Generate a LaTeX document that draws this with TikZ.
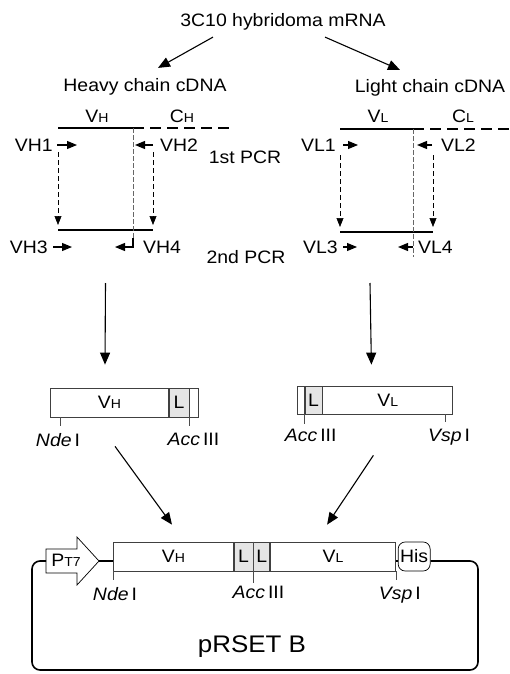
\documentclass[tikz,border=0pt]{standalone}
\usepackage{fontspec}
\setmainfont{Liberation Sans}[FakeStretch=1.08]
\usetikzlibrary{
    positioning,                      % right=0pt of
    arrows.meta,                      % Triangle tips
    calc                              % ($(a)+(0,5)$)
}
\tikzset{
    txt/.style={
        font=\fontsize{18}{20}\selectfont, inner sep=0pt, text=black
    },
    seg/.style={
        txt, draw=black!75, line width=0.7pt,
        minimum height=29pt, inner sep=0pt
    },
    linker/.style={
        seg, fill=black!10
    },
    hisbox/.style={
        seg, draw=black, rounded corners=7pt
    },
    flow/.style={
        -{Triangle[length=12pt,width=10pt]}, line width=1.1pt
    },
    primer/.style={
        -{Triangle[length=10pt,width=8pt]}, line width=1.1pt
    },
    pcrcopy/.style={
        dash pattern=on 5pt off 3pt, line width=0.6pt,
        -{Triangle[length=9pt,width=7pt]}
    },
    guide/.style={
        dash pattern=on 5pt off 2pt, line width=0.6pt, black!60
    },
    vregion/.style={line width=1.8pt},
    cregion/.style={line width=2.8pt, dash pattern=on 11pt off 6pt},
    product/.style={line width=1.3pt},
    sitetick/.style={line width=0.6pt, draw=black!70},
    backbone/.style={line width=1.6pt, rounded corners=8pt}
}
\newcommand{\regname}[2]{#1{\fontsize{13}{13}\selectfont #2}}
\newcommand{\site}[2]{\textit{#1}\,#2}

\begin{document}
\begin{tikzpicture}[x=1pt, y=-1pt]
    \useasboundingbox (0,0) rectangle (510,674);

    % mRNA and the two cDNAs
    \node[txt] (mrna)  at (283,22) {3C10 hybridoma mRNA};
    \node[txt] (heavy) at (145,87) {Heavy chain cDNA};
    \node[txt] (light) at (430,88) {Light chain cDNA};
    \draw[flow] ([xshift=-70pt,yshift=-6.5pt]mrna.south) -- ([xshift=13pt,yshift=10.5pt]heavy.north);
    \draw[flow] ([xshift=42pt,yshift=-6.5pt]mrna.south) -- ([xshift=-30pt,yshift=9.5pt]light.north);

    \node[txt] (vhlab) at (97,116)  {\regname{V}{H}};
    \node[txt] (chlab) at (182,116) {\regname{C}{H}};
    \node[txt] (vllab) at (378,116) {\regname{V}{L}};
    \node[txt] (cllab) at (463,116) {\regname{C}{L}};

    \node[txt] (pcr1) at (245,157) {1st PCR};
    \node[txt] (pcr2) at (246,257) {2nd PCR};

    % heavy chain PCR
    \coordinate (hv0) at (58,128);
    \coordinate (hv1) at (133,128);
    \coordinate (hc1) at (232,128);
    \coordinate (hp0) at (58,230);
    \coordinate (hp1) at (153,230);
    \draw[vregion] (hv0) -- (hv1);
    \draw[cregion] (hv1) -- (hc1);
    \draw[product] (hp0) -- (hp1);
    \draw[guide] (hv1) -- ($(hv1)+(0,110)$);

    \node[txt, anchor=east] (vh1) at (53,145)  {VH1};
    \node[txt, anchor=west] (vh2) at (160,145) {VH2};
    \node[txt, anchor=east] (vh3) at (48,247)  {VH3};
    \node[txt, anchor=west] (vh4) at (143,247) {VH4};
    \draw[primer] ([xshift=4pt]vh1.east) -- ++(20,0);
    \draw[primer] ([xshift=-7pt]vh2.west) -- ++(-18,0);
    \draw[primer] ([xshift=5pt]vh3.east) -- ++(19,0);
    \draw[primer] ($(hv1)+(0,110)$) |- ($(hv1)+(-18,119)$);
    \draw[pcrcopy] ($(hv0)+(0,24)$) -- ($(hp0)+(0,-5)$);
    \draw[pcrcopy] ($(hp1)+(0,-78)$) -- ($(hp1)+(0,-5)$);

    % light chain PCR
    \coordinate (lv0) at (340,129);
    \coordinate (lv1) at (413,129);
    \coordinate (lc1) at (510,129);
    \coordinate (lp0) at (340,232);
    \coordinate (lp1) at (433,232);
    \draw[vregion] (lv0) -- (lv1);
    \draw[cregion] (lv1) -- (lc1);
    \draw[product] (lp0) -- (lp1);
    \draw[guide] (lv1) -- ++(0,128);

    \node[txt, anchor=east] (vl1) at (336,145) {VL1};
    \node[txt, anchor=west] (vl2) at (441,145) {VL2};
    \node[txt, anchor=east] (vl3) at (338,247) {VL3};
    \node[txt, anchor=west] (vl4) at (418,247) {VL4};
    \draw[primer] ([xshift=7pt]vl1.east) -- ++(15,0);
    \draw[primer] ([xshift=-9pt]vl2.west) -- ++(-15,0);
    \draw[primer] ([xshift=5pt]vl3.east) -- ++(14,0);
    \draw[primer] ([xshift=-5pt]vl4.west) -- ++(-15,0);
    \draw[pcrcopy] ($(lp0)+(0,-77)$) -- ($(lp0)+(0,-5)$);
    \draw[pcrcopy] ($(lp1)+(0,-77)$) -- ($(lp1)+(0,-5)$);

    % single fragments
    \node[seg, anchor=west, minimum width=118pt] (mvh) at (50,402.5) {\regname{V}{H}};
    \node[linker, minimum width=20pt, right=0pt of mvh] (mlh) {L};
    \node[seg, minimum width=9pt, right=0pt of mlh] (mth) {};

    \node[seg, anchor=west, minimum width=7pt, minimum height=28pt] (mtl) at (297,400) {};
    \node[linker, minimum width=17pt, minimum height=28pt, right=0pt of mtl] (mll) {L};
    \node[seg, minimum width=130pt, minimum height=28pt, right=0pt of mll] (mvl) {\regname{V}{L}};

    \draw[sitetick] ([xshift=10pt]mvh.south west) -- ++(0,9)
        node[txt, below=6.5pt, xshift=-2pt] (ndem) {\site{Nde}{I}};
    \draw[sitetick] (mlh.south east) -- ++(0,9)
        node[txt, below=6.5pt, xshift=4pt] (accm) {\site{Acc}{III}};
    \draw[sitetick] (mtl.south east) -- ++(0,10)
        node[txt, below=4.5pt, xshift=6pt] (accr) {\site{Acc}{III}};
    \draw[sitetick] ([xshift=-8pt]mvl.south east) -- ++(0,8)
        node[txt, below=6.5pt, xshift=4pt] (vspr) {\site{Vsp}{I}};

    \draw[flow] ($(hp0)!.5!(hp1)+(0,53)$) -- ($(mvh.north west)+(55,-23)$);
    \draw[flow] ($(lp0)+(30,51)$) -- ($(mvl.north west)+(49,-21)$);

    % expression construct
    \node[seg, anchor=west, minimum width=120pt] (bvh) at (113,556.5) {\regname{V}{H}};
    \node[linker, minimum width=19pt, right=0pt of bvh] (bl1) {L};
    \node[linker, minimum width=16pt, right=0pt of bl1] (bl2) {L};
    \node[seg, minimum width=125pt, right=0pt of bl2] (bvl) {\regname{V}{L}};
    \node[hisbox, minimum width=32pt, right=2pt of bvl] (his) {His};

    \coordinate (pt7tail) at (46,561);
    \coordinate (pt7tip)  at (99,561);
    \draw[line width=0.7pt] (pt7tail) ++(0,-12) -- ++(31,0) -- ++(0,-12) -- (pt7tip)
        -- ++(-22,24) -- ++(0,-12) -- ++(-31,0) -- cycle;
    \node[txt] (pt7) at (66,560) {\regname{P}{T7}};

    \coordinate (loopsw) at (32,670);
    \coordinate (loopse) at (478,670);
    \draw[backbone] (pt7tail) -| (loopsw) -- (loopse) |- (his.east |- pt7tip);
    \draw[line width=1.6pt] (pt7tip) -- (bvh.west |- pt7tip);
    \draw[line width=1.6pt] (bvl.east |- pt7tip) -- (his.west |- pt7tip);

    \draw[sitetick] (bvh.south west) -- ++(0,9)
        node[txt, below=6.5pt, xshift=2pt] (ndeb) {\site{Nde}{I}};
    \draw[sitetick] (bl1.north east) -- ++(0,41)
        node[txt, below=3.5pt, xshift=5pt] (accb) {\site{Acc}{III}};
    \draw[sitetick] (bvl.south east) -- ++(0,9)
        node[txt, below=6.5pt, xshift=4pt] (vspb) {\site{Vsp}{I}};

    \draw[flow] ($(mvh.south west)+(65,29)$) -- ($(bvh.north west)+(59,-17)$);
    \draw[flow] ($(mvl.south west)+(51,41)$) -- ($(bvl.north west)+(57,-17)$);

    \node[txt, font=\fontsize{24}{26}\selectfont] (prset) at (252,647) {pRSET B};
\end{tikzpicture}
\end{document}
